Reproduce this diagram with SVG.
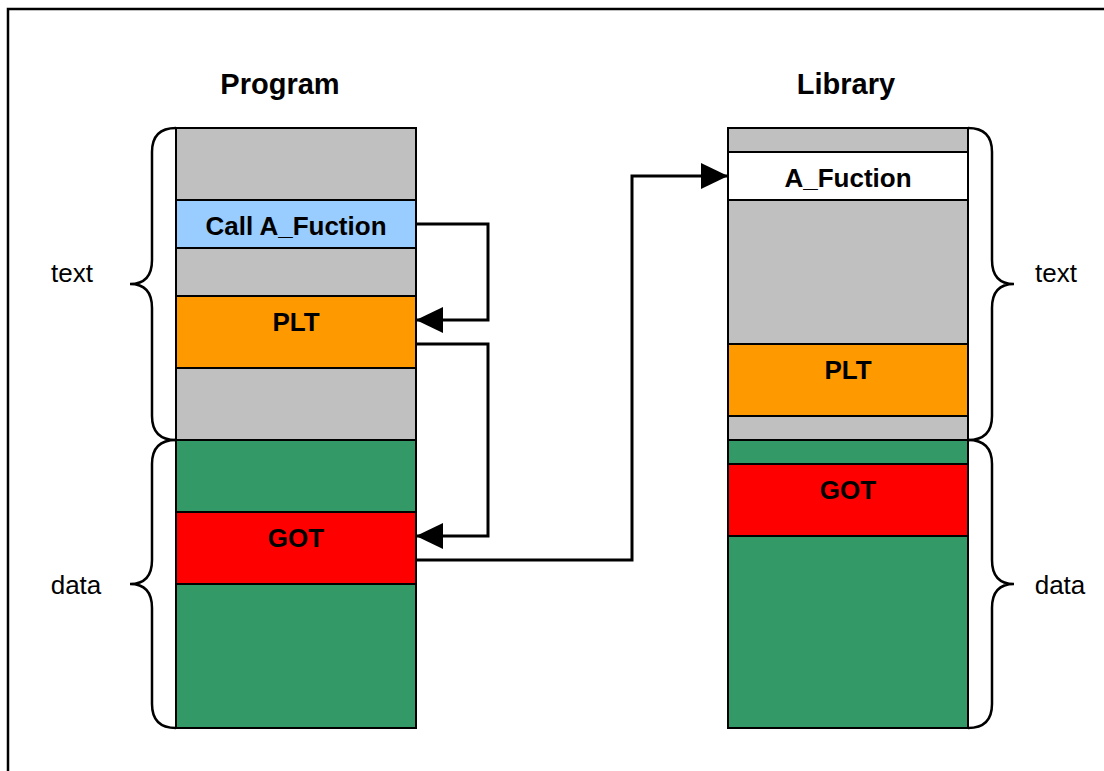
<svg xmlns="http://www.w3.org/2000/svg" width="1104" height="771" viewBox="0 0 1104 771">
  <style>
    .seg { stroke: #000; stroke-width: 2; }
    .gray { fill: #C0C0C0; }
    .blue { fill: #99CCFF; }
    .orange { fill: #FF9900; }
    .red { fill: #FF0000; }
    .green { fill: #339966; }
    .white { fill: #FFFFFF; }
    .lbl { font-family: "Liberation Sans", Arial, sans-serif; font-weight: bold; font-size: 26px; text-anchor: middle; fill: #000; }
    .title { font-family: "Liberation Sans", Arial, sans-serif; font-weight: bold; font-size: 29px; text-anchor: middle; fill: #000; }
    .side { font-family: "Liberation Sans", Arial, sans-serif; font-size: 26px; text-anchor: middle; fill: #000; }
    .brace { fill: none; stroke: #000; stroke-width: 2.5; }
    .wire { fill: none; stroke: #000; stroke-width: 3; }
  </style>
  <defs>
    <marker id="head" markerUnits="userSpaceOnUse" markerWidth="28" markerHeight="28" viewBox="0 0 28 28" refX="27" refY="14" orient="auto">
      <path d="M0,1 L27,14 L0,27 Z" fill="#000"/>
    </marker>
  </defs>

  <rect width="1104" height="771" fill="#fff"/>
  <!-- frame -->
  <rect x="8" y="9" width="1200" height="1000" fill="none" stroke="#000" stroke-width="2.5"/>

  <!-- titles -->
  <text class="title" x="280" y="94">Program</text>
  <text class="title" x="846" y="94">Library</text>

  <!-- program memory layout -->
  <g id="program">
    <rect class="seg gray" x="176" y="128" width="240" height="72"/>
    <rect class="seg blue" x="176" y="200" width="240" height="48"/>
    <rect class="seg gray" x="176" y="248" width="240" height="48"/>
    <rect class="seg orange" x="176" y="296" width="240" height="72"/>
    <rect class="seg gray" x="176" y="368" width="240" height="72"/>
    <rect class="seg green" x="176" y="440" width="240" height="72"/>
    <rect class="seg red" x="176" y="512" width="240" height="72"/>
    <rect class="seg green" x="176" y="584" width="240" height="144"/>
    <text class="lbl" x="296" y="235">Call A_Fuction</text>
    <text class="lbl" x="296" y="331">PLT</text>
    <text class="lbl" x="296" y="547">GOT</text>
  </g>

  <!-- library memory layout -->
  <g id="library">
    <rect class="seg gray" x="728" y="128" width="240" height="24"/>
    <rect class="seg white" x="728" y="152" width="240" height="48"/>
    <rect class="seg gray" x="728" y="200" width="240" height="144"/>
    <rect class="seg orange" x="728" y="344" width="240" height="72"/>
    <rect class="seg gray" x="728" y="416" width="240" height="24"/>
    <rect class="seg green" x="728" y="440" width="240" height="24"/>
    <rect class="seg red" x="728" y="464" width="240" height="72"/>
    <rect class="seg green" x="728" y="536" width="240" height="192"/>
    <text class="lbl" x="848" y="187">A_Fuction</text>
    <text class="lbl" x="848" y="379">PLT</text>
    <text class="lbl" x="848" y="499">GOT</text>
  </g>

  <!-- section braces -->
  <g id="program-text-brace">
    <path class="brace" d="M176,128 Q152,128 152,152 L152,260 Q152,284 130,284 Q152,284 152,308 L152,416 Q152,440 176,440"/>
    <text class="side" x="72" y="282">text</text>
  </g>
  <g id="program-data-brace">
    <path class="brace" d="M176,440 Q152,440 152,464 L152,560 Q152,584 130,584 Q152,584 152,608 L152,704 Q152,728 176,728"/>
    <text class="side" x="76" y="594">data</text>
  </g>
  <g id="library-text-brace">
    <path class="brace" d="M968,128 Q992,128 992,152 L992,260 Q992,284 1014,284 Q992,284 992,308 L992,416 Q992,440 968,440"/>
    <text class="side" x="1056" y="282">text</text>
  </g>
  <g id="library-data-brace">
    <path class="brace" d="M968,440 Q992,440 992,464 L992,560 Q992,584 1014,584 Q992,584 992,608 L992,704 Q992,728 968,728"/>
    <text class="side" x="1060" y="594">data</text>
  </g>

  <!-- call flow -->
  <g id="connectors">
    <path class="wire" d="M416,224 L488,224 L488,320 L416,320" marker-end="url(#head)"/>
    <path class="wire" d="M416,344 L488,344 L488,536 L416,536" marker-end="url(#head)"/>
    <path class="wire" d="M416,560 L632,560 L632,176 L728,176" marker-end="url(#head)"/>
  </g>
</svg>
